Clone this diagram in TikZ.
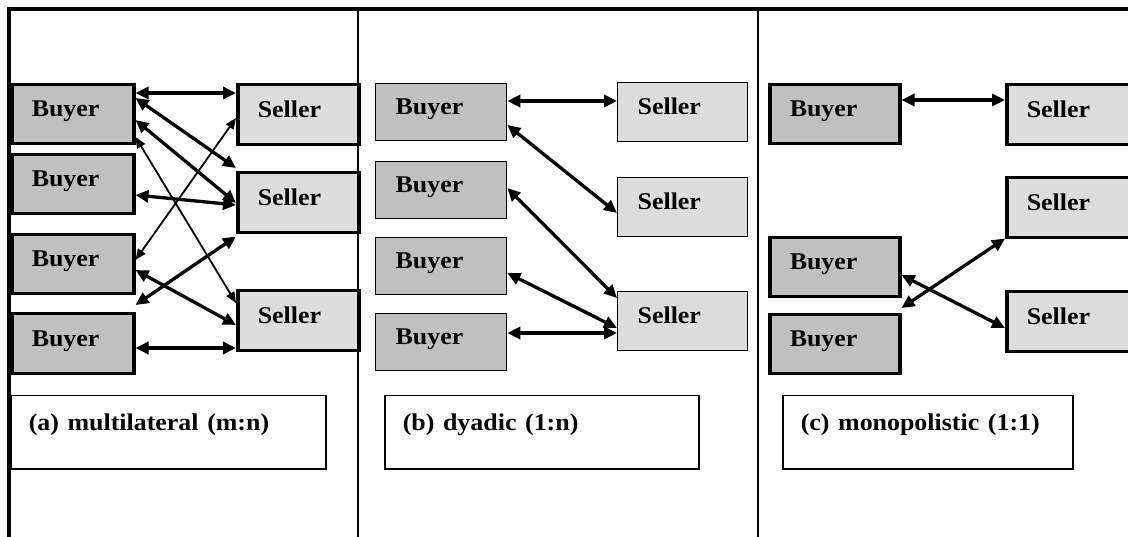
\documentclass[tikz,border=0pt]{standalone}
\usepackage{fontspec}
\setmainfont{Liberation Serif}
\usepackage{graphicx}
\usetikzlibrary{arrows.meta}
\definecolor{buyergray}{HTML}{C0C0C0}
\definecolor{sellergray}{HTML}{DDDDDD}
\newcommand{\wide}[1]{\scalebox{1.08}[1]{#1}}

\begin{document}
\begin{tikzpicture}[x=1pt,y=-1pt]
\tikzstyle{box} = [rectangle, draw=black, anchor=north west, inner xsep=20pt, inner ysep=0pt, align=left, font=\bfseries\fontsize{24}{28}\selectfont, text height=17pt, text depth=12pt]
\tikzstyle{thickbox} = [line width=3.5pt]
\tikzstyle{thinbox} = [line width=1.3pt]
\tikzstyle{buyer} = [box, fill=buyergray]
\tikzstyle{seller} = [box, fill=sellergray]
\tikzstyle{capbox} = [rectangle, draw=black, line width=1.5pt, anchor=north west, inner xsep=18pt, inner ysep=10pt, align=left, font=\bfseries\fontsize{24}{28}\selectfont, text height=25pt, text depth=28pt]
\tikzstyle{link} = [arrows={Triangle[length=13pt,width=12pt]-Triangle[length=13pt,width=12pt]}, line width=3.3pt]
\tikzstyle{thinlink} = [arrows={Triangle[length=11pt,width=9pt]-Triangle[length=11pt,width=9pt]}, line width=1.8pt]
\useasboundingbox (0,0) rectangle (1128,537);
    \draw [line width=4pt] (9,537) -- (9,9.5) -- (1130,9.5);
    \draw [line width=2pt] (358,9.5) -- (358,537);
    \draw [line width=2pt] (757.5,9.5) -- (757.5,537);

\node [buyer, thickbox, text width=82pt, minimum height=59pt] (b1a) at (10,83) {\wide{Buyer}};
\node [buyer, thickbox, text width=82pt, minimum height=59pt] (b2a) at (10,153) {\wide{Buyer}};
\node [buyer, thickbox, text width=82pt, minimum height=59pt] (b3a) at (10,233) {\wide{Buyer}};
\node [buyer, thickbox, text width=82pt, minimum height=60pt] (b4a) at (10,312) {\wide{Buyer}};
\node [seller, thickbox, text width=81pt, minimum height=60pt] (s1a) at (236,83) {\wide{Seller}};
\node [seller, thickbox, text width=81pt, minimum height=60pt] (s2a) at (236,171) {\wide{Seller}};
\node [seller, thickbox, text width=81pt, minimum height=60pt] (s3a) at (236,289) {\wide{Seller}};

\node [buyer, thinbox, text width=91pt, minimum height=57pt] (b1b) at (375,83) {\wide{Buyer}};
\node [buyer, thinbox, text width=91pt, minimum height=57pt] (b2b) at (375,161) {\wide{Buyer}};
\node [buyer, thinbox, text width=91pt, minimum height=57pt] (b3b) at (375,237) {\wide{Buyer}};
\node [buyer, thinbox, text width=91pt, minimum height=57pt] (b4b) at (375,313) {\wide{Buyer}};
\node [seller, thinbox, text width=90pt, minimum height=59pt] (s1b) at (617,82) {\wide{Seller}};
\node [seller, thinbox, text width=90pt, minimum height=59pt] (s2b) at (617,177) {\wide{Seller}};
\node [seller, thinbox, text width=90pt, minimum height=59pt] (s3b) at (617,291) {\wide{Seller}};

\node [buyer, thickbox, text width=90pt, minimum height=59pt] (b1c) at (768,83) {\wide{Buyer}};
\node [buyer, thickbox, text width=90pt, minimum height=59pt] (b2c) at (768,236) {\wide{Buyer}};
\node [buyer, thickbox, text width=90pt, minimum height=59pt] (b3c) at (768,313) {\wide{Buyer}};
\node [seller, thickbox, text width=110pt, minimum height=60pt] (s1c) at (1005,83) {\wide{Seller}};
\node [seller, thickbox, text width=110pt, minimum height=60pt] (s2c) at (1005,176) {\wide{Seller}};
\node [seller, thickbox, text width=110pt, minimum height=60pt] (s3c) at (1005,290) {\wide{Seller}};

\node [capbox, text width=279pt] (capa) at (10,395) {\wide{(a) multilateral (m:n)}};
\node [capbox, text width=278pt] (capb) at (384,395) {\wide{(b) dyadic (1:n)}};
\node [capbox, text width=254pt] (capc) at (782,395) {\wide{(c) monopolistic (1:1)}};

\draw [link] ([yshift=-10pt]b1a.north east) -- ([yshift=-10pt]s1a.north west);
\draw [link] ([yshift=-15pt]b1a.north east) -- ([yshift=3pt]s2a.north west);
\draw [link] ([yshift=-37pt]b1a.north east) -- ([yshift=-32pt]s2a.north west);
\draw [thinlink] ([yshift=-54pt]b1a.north east) -- ([yshift=-14pt]s3a.north west);
\draw [thinlink] ([yshift=-35pt]s1a.north west) -- ([yshift=-27pt]b3a.north east);
\draw [link] ([yshift=-42pt]b2a.north east) -- ([yshift=-34pt]s2a.north west);
\draw [link] ([yshift=-37pt]b3a.north east) -- ([yshift=-36pt]s3a.north west);
\draw [link] ([yshift=7pt]b4a.north east) -- ([yshift=-2pt]s2a.south west);
\draw [link] ([yshift=-36pt]b4a.north east) -- ([yshift=-59pt]s3a.north west);

\draw [link] ([yshift=-18pt]b1b.north east) -- ([yshift=-19pt]s1b.north west);
\draw [link] ([yshift=-42pt]b1b.north east) -- ([yshift=-36pt]s2b.north west);
\draw [link] ([yshift=-27pt]b2b.north east) -- ([yshift=-7pt]s3b.north west);
\draw [link] ([yshift=-36pt]b3b.north east) -- ([yshift=-37pt]s3b.north west);
\draw [link] ([yshift=-20pt]b4b.north east) -- ([yshift=-42pt]s3b.north west);

\draw [link] ([yshift=-17pt]b1c.north east) -- ([yshift=-17pt]s1c.north west);
\draw [link] ([yshift=-39pt]b2c.north east) -- ([yshift=-38pt]s3c.north west);
\draw [link] ([yshift=5pt]b3c.north east) -- ([yshift=1pt]s2c.south west);
\end{tikzpicture}
\end{document}
